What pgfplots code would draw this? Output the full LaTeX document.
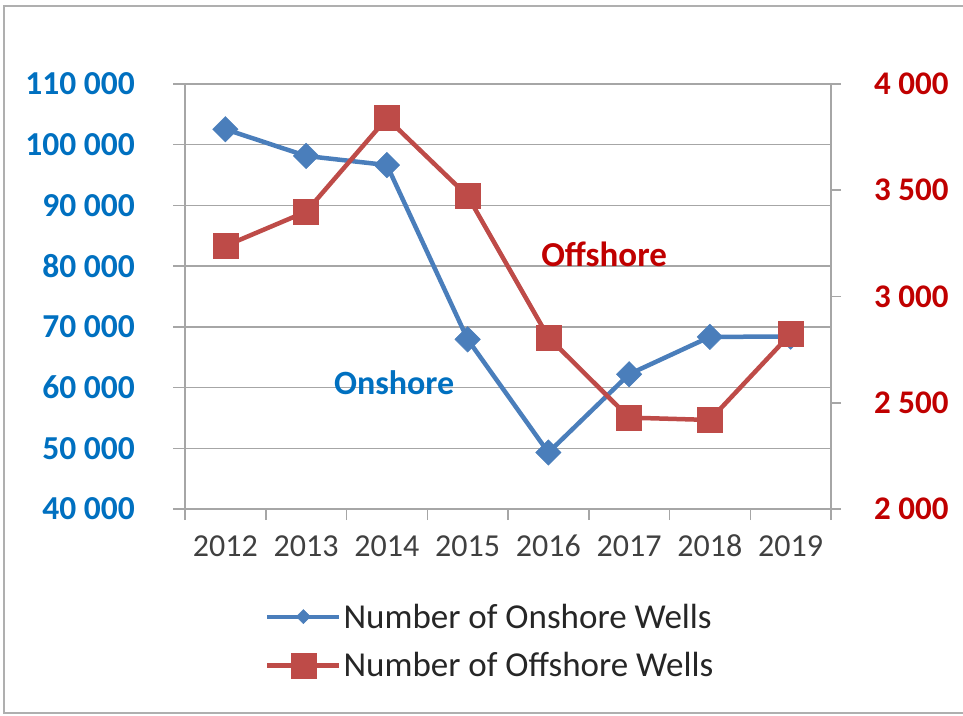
\documentclass[border=0pt]{standalone}
\usepackage{fontspec}
\setmainfont{Carlito}
\usepackage{pgfplots}
\pgfplotsset{compat=1.18}
\definecolor{onblue}{HTML}{4A7EBB}
\definecolor{offred}{HTML}{BE4B48}
\definecolor{lblblue}{HTML}{0070C0}
\definecolor{lblred}{HTML}{C00000}
\definecolor{gridgray}{HTML}{A6A6A6}
\definecolor{txtgray}{HTML}{404040}
\begin{document}
\begin{tikzpicture}[x=1pt,y=1pt]
\useasboundingbox (0,0) rectangle (963,715);
\draw[gridgray!90, line width=2pt] (4,2) rectangle (985,709);
\begin{axis}[
  at={(185pt,206pt)}, anchor=south west,
  width=646pt, height=425pt, scale only axis,
  xmin=0.5, xmax=8.5, ymin=40000, ymax=110000,
  scaled y ticks=false,
  axis y line*=left, axis x line*=bottom,
  axis line style={gridgray, line width=1.5pt, -},
  xtick={1,...,8},
  xticklabels={2012,2013,2014,2015,2016,2017,2018,2019},
  major x tick style={draw=none},
  minor xtick={0.5,1.5,...,8.5},
  minor tick length=11pt,
  major tick length=12pt,
  tick align=outside,
  tick style={gridgray, line width=1.5pt},
  ytick={40000,50000,...,110000},
  yticklabels={40 000,50 000,60 000,70 000,80 000,90 000,100 000,110 000},
  ymajorgrids, grid style={gridgray, line width=1.5pt},
  yticklabel style={font=\fontsize{33.5}{38}\selectfont\bfseries, text=lblblue, inner sep=0pt, anchor=east, xshift=-38pt},
  xticklabel style={font=\fontsize{32}{36}\selectfont, text=txtgray, inner sep=0pt, anchor=north, text height=21pt, text depth=0pt, yshift=-14pt},
  clip=false,
]
\addplot[onblue, line width=4.5pt, mark=square*, mark size=9pt,
  mark options={rotate=45, solid, fill=onblue, draw=onblue, line width=0.5pt}]
  coordinates {(1,102550) (2,98150) (3,96650) (4,67950) (5,49300) (6,62200) (7,68350) (8,68400)};
\node[text=lblblue, font=\fontsize{34}{38}\selectfont\bfseries] at (axis cs:3.09,60740) {Onshore};
\node[text=lblred, font=\fontsize{35}{38}\selectfont\bfseries] at (axis cs:5.69,82000) {Offshore};
\end{axis}
\begin{axis}[
  at={(185pt,206pt)}, anchor=south west,
  width=646pt, height=425pt, scale only axis,
  xmin=0.5, xmax=8.5, ymin=2000, ymax=4000,
  scaled y ticks=false,
  axis y line*=right, axis x line=none,
  axis line style={gridgray, line width=1.5pt, -},
  major tick length=10pt,
  tick align=outside,
  tick style={gridgray, line width=1.5pt},
  ytick={2000,2500,...,4000},
  yticklabels={2 000,2 500,3 000,3 500,4 000},
  yticklabel style={font=\fontsize{33}{36}\selectfont\bfseries, text=lblred, inner sep=0pt, anchor=west, xshift=33pt},
  clip=false,
  legend style={draw=none, fill=none, at={(0.119,-0.213)}, anchor=north west,
    font=\fontsize{35}{40}\selectfont, text=black!85, nodes={inner sep=2pt}, row sep=19pt},
  legend cell align=left,
  legend image code/.code={\draw[mark repeat=2, mark phase=2] plot coordinates {(0pt,0pt) (36pt,0pt) (72pt,0pt)};},
]
\addlegendimage{onblue, line width=4pt, mark=square*, mark size=5pt,
  mark options={rotate=45, solid, fill=onblue, draw=onblue, line width=0.5pt}}
\addlegendentry{Number of Onshore Wells}
\addplot[offred, line width=4.5pt, mark=square*, mark size=12.5pt,
  mark options={solid, fill=offred, draw=offred, line width=0.5pt}]
  coordinates {(1,3238) (2,3399) (3,3839) (4,3473) (5,2808) (6,2430) (7,2419) (8,2824)};
\addlegendentry{Number of Offshore Wells}
\end{axis}
\end{tikzpicture}
\end{document}
